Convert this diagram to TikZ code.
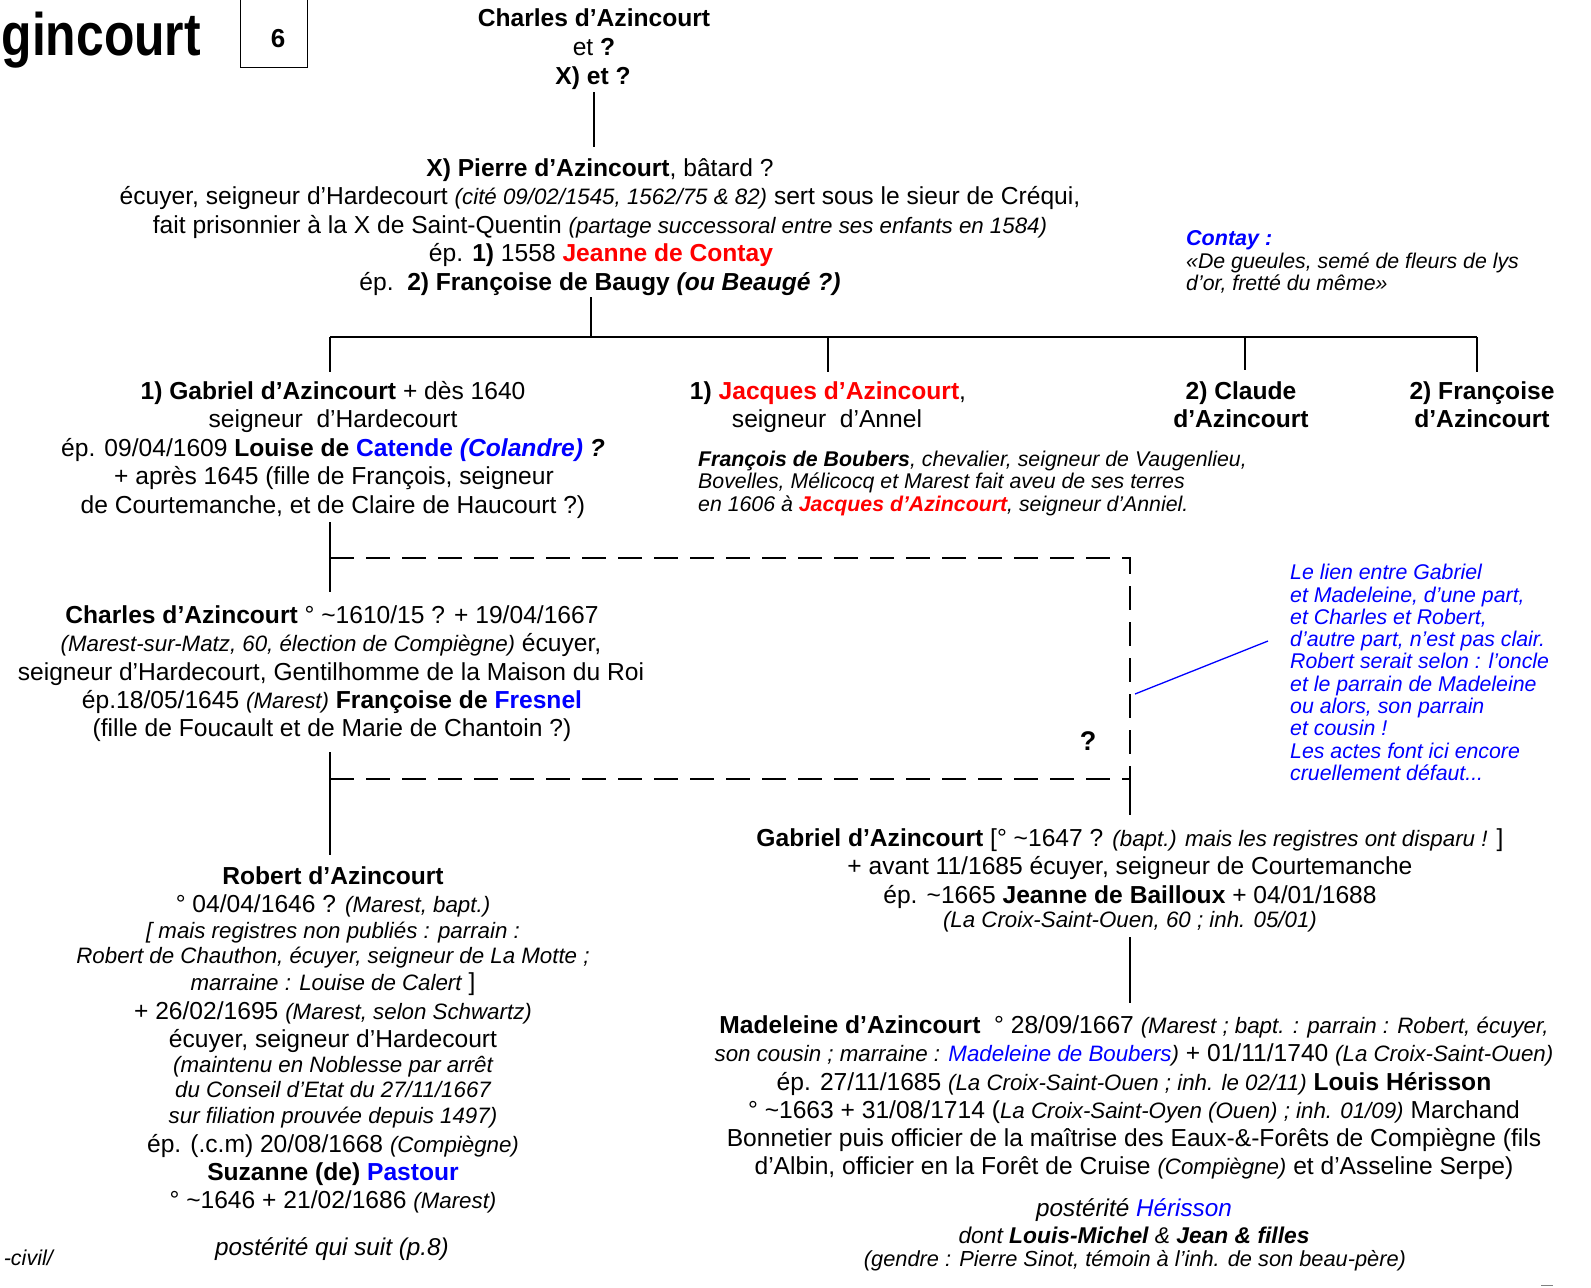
\documentclass[tikz,border=0pt]{standalone}
\usepackage{fontspec}
\setmainfont{Liberation Sans}
\newfontfamily\titlefont[FakeStretch=0.83]{Liberation Sans}
\definecolor{rd}{RGB}{255,0,0}
\definecolor{bl}{RGB}{0,0,255}
\newcommand\Ital[1]{{\fontsize{22.3}{24}\selectfont\itshape #1}}
\newcommand\mkline[5][txt]{\node[#1] (#2) at (#3,#4) {#5};}
\begin{document}
\begin{tikzpicture}[x=1pt,y=-1pt,
  txt/.style={inner sep=0pt, anchor=base, font=\fontsize{24.6}{28}\selectfont},
  itxt/.style={inner sep=0pt, anchor=base, font=\fontsize{22.3}{24}\selectfont\itshape},
  note/.style={inner sep=0pt, anchor=base west, font=\fontsize{21.3}{23}\selectfont\itshape},
  bnote/.style={note, text=bl},
  link/.style={line width=2pt},
  dlink/.style={line width=2.6pt, dash pattern=on 24pt off 12pt},
  bluelink/.style={line width=1.3pt, draw=bl}]
\useasboundingbox (0,0) rectangle (1591,1288);

% title and page box
\node[inner sep=0pt, anchor=base east, font=\titlefont\bfseries\fontsize{60}{60}\selectfont] (title) at (201,55) {gincourt};
\node[draw, line width=1pt, inner sep=0pt, minimum width=67pt, minimum height=70pt] (pagebox) at (273.5,32) {};
\mkline[txt, font=\fontsize{26}{28}\selectfont\bfseries]{pagenum}{278}{47}{6}

% top
\mkline{t1}{594}{26}{\textbf{Charles d’Azincourt}}
\mkline{t2}{594}{55}{et \textbf{?}}
\mkline{t3}{593}{84}{\textbf{X) et ?}}

% Pierre
\mkline{p1}{600}{176}{\textbf{X) Pierre d’Azincourt}, bâtard ?}
\mkline{p2}{600}{204}{écuyer, seigneur d’Hardecourt \Ital{(cité 09/02/1545, 1562/75 \& 82)} sert sous le sieur de Créqui,}
\mkline{p3}{600}{233}{fait prisonnier à la X de Saint-Quentin \Ital{(partage successoral entre ses enfants en 1584)}}
\mkline{p4}{601}{261}{ép. \textbf{1)} 1558 \textcolor{rd}{\textbf{Jeanne de Contay}}}
\mkline{p5}{600}{290}{ép.\ \ \textbf{2) Françoise de Baugy \textit{(ou Beaugé ?)}}}

% Contay note
\mkline[note, text=bl, font=\fontsize{21.5}{23}\selectfont\bfseries\itshape]{c1}{1186}{245}{Contay :}
\mkline[note]{c2}{1186}{268}{«De gueules, semé de fleurs de lys}
\mkline[note]{c3}{1186}{290}{d’or, fretté du même»}

% Gabriel
\mkline{g1}{333}{399}{\textbf{1) Gabriel d’Azincourt} + dès 1640}
\mkline{g2}{333}{427}{seigneur\ \ d’Hardecourt}
\mkline{g3}{333}{456}{ép. 09/04/1609 \textbf{Louise de \textcolor{bl}{Catende \textit{(Colandre)}} \textit{?}}}
\mkline{g4}{334}{484}{+ après 1645 (fille de François, seigneur}
\mkline{g5}{333}{513}{de Courtemanche, et de Claire de Haucourt ?)}

% Jacques
\mkline{j1}{828}{399}{\textbf{1) \textcolor{rd}{Jacques d’Azincourt}},}
\mkline{j2}{827}{427}{seigneur\ \ d’Annel}
\mkline[note]{b1}{698}{466}{\textbf{François de Boubers}, chevalier, seigneur de Vaugenlieu,}
\mkline[note]{b2}{698}{488}{Bovelles, Mélicocq et Marest fait aveu de ses terres}
\mkline[note]{b3}{698}{511}{en 1606 à \textcolor{rd}{\textbf{Jacques d’Azincourt}}, seigneur d’Anniel.}

% Claude, Francoise
\mkline{cl1}{1241}{399}{\textbf{2) Claude}}
\mkline{cl2}{1241}{427}{\textbf{d’Azincourt}}
\mkline{f1}{1482}{399}{\textbf{2) Françoise}}
\mkline{f2}{1482}{427}{\textbf{d’Azincourt}}

% Charles
\mkline{ch1}{332}{623}{\textbf{Charles d’Azincourt} ° \textasciitilde1610/15 ? + 19/04/1667}
\mkline{ch2}{331}{651}{\Ital{(Marest-sur-Matz, 60, élection de Compiègne)} écuyer,}
\mkline{ch3}{331}{680}{seigneur d’Hardecourt, Gentilhomme de la Maison du Roi}
\mkline{ch4}{332}{708}{ép.18/05/1645 \Ital{(Marest)} \textbf{Françoise de \textcolor{bl}{Fresnel}}}
\mkline{ch5}{332}{736}{(fille de Foucault et de Marie de Chantoin ?)}

\mkline[txt, font=\fontsize{27}{28}\selectfont\bfseries]{qm}{1088}{750}{?}

% blue note
\mkline[bnote]{n1}{1290}{579}{Le lien entre Gabriel}
\mkline[bnote]{n2}{1290}{602}{et Madeleine, d’une part,}
\mkline[bnote]{n3}{1290}{624}{et Charles et Robert,}
\mkline[bnote]{n4}{1290}{646}{d’autre part, n’est pas clair.}
\mkline[bnote]{n5}{1290}{668}{Robert serait selon : l’oncle}
\mkline[bnote]{n6}{1290}{691}{et le parrain de Madeleine}
\mkline[bnote]{n7}{1290}{713}{ou alors, son parrain}
\mkline[bnote]{n8}{1290}{735}{et cousin !}
\mkline[bnote]{n9}{1290}{758}{Les actes font ici encore}
\mkline[bnote]{n10}{1290}{780}{cruellement défaut...}

% Gabriel II
\mkline{gg1}{1130}{846}{\textbf{Gabriel d’Azincourt} [° \textasciitilde1647 ? \Ital{(bapt.) mais les registres ont disparu !} ]}
\mkline{gg2}{1130}{874}{+ avant 11/1685 écuyer, seigneur de Courtemanche}
\mkline{gg3}{1130}{903}{ép. \textasciitilde1665 \textbf{Jeanne de Bailloux} + 04/01/1688}
\mkline[itxt]{gg4}{1130}{927}{(La Croix-Saint-Ouen, 60 ; inh. 05/01)}

% Madeleine
\mkline{m1}{1134}{1033}{\textbf{Madeleine d’Azincourt}\ \ ° 28/09/1667 \Ital{(Marest ; bapt. : parrain : Robert, écuyer,}}
\mkline{m2}{1134}{1061}{\Ital{son cousin ; marraine : \textcolor{bl}{Madeleine de Boubers})} + 01/11/1740 \Ital{(La Croix-Saint-Ouen)}}
\mkline{m3}{1134}{1090}{ép. 27/11/1685 \Ital{(La Croix-Saint-Ouen ; inh. le 02/11)} \textbf{Louis Hérisson}}
\mkline{m4}{1134}{1118}{° \textasciitilde1663 + 31/08/1714 (\Ital{La Croix-Saint-Oyen (Ouen) ; inh. 01/09)} Marchand}
\mkline{m5}{1134}{1146}{Bonnetier puis officier de la maîtrise des Eaux-\&-Forêts de Compiègne (fils}
\mkline{m6}{1134}{1174}{d’Albin, officier en la Forêt de Cruise \Ital{(Compiègne)} et d’Asseline Serpe)}
\mkline[txt, font=\fontsize{24.3}{28}\selectfont\itshape]{m7}{1134}{1216}{postérité \textcolor{bl}{Hérisson}}
\mkline[txt, font=\fontsize{22.8}{26}\selectfont\itshape]{m8}{1134}{1243}{dont \textbf{Louis-Michel} \& \textbf{Jean \& filles}}
\mkline[txt, font=\fontsize{21.8}{24}\selectfont\itshape]{m9}{1135}{1266}{(gendre : Pierre Sinot, témoin à l’inh. de son beau-père)}

% Robert
\mkline{r1}{333}{884}{\textbf{Robert d’Azincourt}}
\mkline{r2}{333}{912}{° 04/04/1646 ? \Ital{(Marest, bapt.)}}
\mkline[itxt]{r3}{333}{938}{[ mais registres non publiés : parrain :}
\mkline[itxt]{r4}{333}{963}{Robert de Chauthon, écuyer, seigneur de La Motte ;}
\mkline{r5}{333}{990}{\Ital{marraine : Louise de Calert} ]}
\mkline{r6}{333}{1019}{+ 26/02/1695 \Ital{(Marest, selon Schwartz)}}
\mkline{r7}{333}{1047}{écuyer, seigneur d’Hardecourt}
\mkline[itxt]{r8}{333}{1072}{(maintenu en Noblesse par arrêt}
\mkline[itxt]{r9}{333}{1097}{du Conseil d’Etat du 27/11/1667}
\mkline[itxt]{r10}{333}{1123}{sur filiation prouvée depuis 1497)}
\mkline{r11}{333}{1152}{ép. (.c.m) 20/08/1668 \Ital{(Compiègne)}}
\mkline{r12}{333}{1180}{\textbf{Suzanne (de) \textcolor{bl}{Pastour}}}
\mkline{r13}{333}{1208}{° \textasciitilde1646 + 21/02/1686 \Ital{(Marest)}}
\mkline[txt, font=\fontsize{24.3}{28}\selectfont\itshape]{r14}{332}{1255}{postérité qui suit (p.8)}

\node[inner sep=0pt, anchor=base east, font=\fontsize{21.5}{24}\selectfont\itshape] (civil) at (53,1265) {-civil/};

% connectors
\coordinate (a1) at (594,92);   \coordinate (a2) at (594,147);
\coordinate (b1) at (591,297);  \coordinate (b2) at (591,337);
\coordinate (bl) at (330,337);  \coordinate (br) at (1477,337);
\coordinate (d1) at (330,372);
\coordinate (d2t) at (828,337); \coordinate (d2) at (828,372);
\coordinate (d3t) at (1245,337);\coordinate (d3) at (1245,370);
\coordinate (d4) at (1477,372);
\coordinate (e1) at (330,522);  \coordinate (e2) at (330,592);
\coordinate (h1) at (330,558);  \coordinate (h2) at (1130,558);
\coordinate (h3) at (1130,779); \coordinate (h4) at (330,779);
\coordinate (h5) at (1130,815);
\coordinate (k1) at (330,752);  \coordinate (k2) at (330,855);
\coordinate (l1) at (1130,937); \coordinate (l2) at (1130,1003);
\coordinate (q1) at (1135,694); \coordinate (q2) at (1268,641);
\coordinate (z1) at (1541,1285); \coordinate (z2) at (1553,1285);

\draw[link] (a1) -- (a2);
\draw[link] (b1) -- (b2);
\draw[link] (bl) -- (br);
\draw[link] (bl) -- (d1);
\draw[link] (d2t) -- (d2);
\draw[link] (d3t) -- (d3);
\draw[link] (br) -- (d4);
\draw[link] (e1) -- (e2);
\draw[dlink] (h1) -- (h2) -- (h3);
\draw[dlink] (h4) -- (h3);
\draw[link] (h3) -- (h5);
\draw[link] (k1) -- (k2);
\draw[link] (l1) -- (l2);
\draw[bluelink] (q1) -- (q2);
\draw[line width=1pt, gray] (z1) -- (z2);
\end{tikzpicture}
\end{document}
